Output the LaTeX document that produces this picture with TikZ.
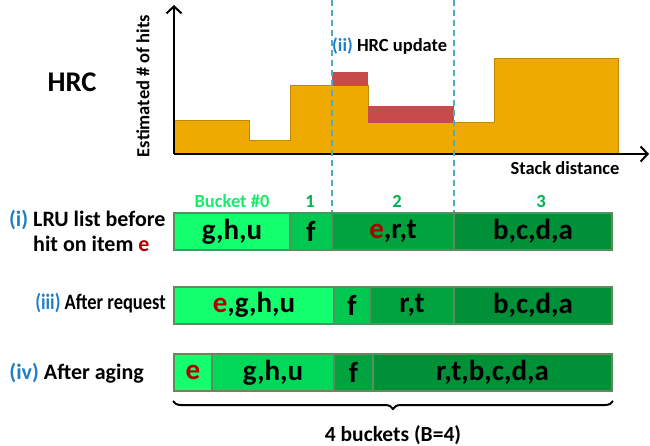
\documentclass[tikz,border=0pt]{standalone}
\usepackage{fontspec}
\usepackage{graphicx}
\setmainfont{Carlito}
\usetikzlibrary{decorations.pathreplacing,arrows.meta}

\definecolor{hrcfill}{HTML}{EEAA00}
\definecolor{hrcedge}{HTML}{C08A00}
\definecolor{updred}{HTML}{C84B4B}
\definecolor{dashblue}{HTML}{4BACC6}
\definecolor{labblue}{HTML}{1F7EC8}
\definecolor{itemred}{HTML}{B00000}
\definecolor{bktA}{HTML}{14FF6E}
\definecolor{bktE}{HTML}{00D85A}
\definecolor{bktB}{HTML}{00C850}
\definecolor{bktC}{HTML}{00A33D}
\definecolor{bktD}{HTML}{009038}
\definecolor{bktzero}{HTML}{14EC6A}
\definecolor{bktnum}{HTML}{00B050}
\definecolor{cellline}{HTML}{5E8C5E}

\newcommand{\itm}[1]{\textcolor{itemred}{#1}}
\newcommand{\stp}[1]{\textcolor{labblue}{#1}}

\tikzset{
  cell/.style={draw=cellline, line width=2pt, minimum height=37pt, inner sep=0pt,
    font=\fontsize{29}{32}\selectfont\bfseries},
  lbl/.style={font=\fontsize{18.5}{22}\selectfont\bfseries, inner sep=0pt},
  rowlbl/.style={font=\fontsize{22}{25}\selectfont\bfseries, inner sep=0pt},
  bnum/.style={lbl, text=bktnum},
  axis/.style={line width=2pt, -{Straight Barb[length=7pt, width=15pt, line width=2pt]}}
}

\begin{document}
\begin{tikzpicture}[x=1pt, y=-1pt]
  \useasboundingbox (0,0) rectangle (650,446);

  % histogram
  \fill[hrcfill, draw=hrcedge, line width=1pt]
    (174,154) -- (174,121) -- (249,121) -- (249,141) -- (290,141) -- (290,86)
    -- (368,86) -- (368,123) -- (494,123) -- (494,59) -- (618,59) -- (618,154) -- cycle;
  \fill[updred] (332,72) rectangle (368,86);
  \fill[updred] (368,106) rectangle (454,123);

  % axes
  \coordinate (o) at (174,154);
  \coordinate (ytop) at (174,5);
  \coordinate (xend) at (649,154);
  \draw[axis] (o) -- (ytop);
  \draw[axis] (o) -- (xend);

  \node[font=\fontsize{28.5}{32}\selectfont\bfseries] (hrc) at (72,82) {HRC};
  \node[lbl, rotate=90] (ylab) at (143,86) {Estimated \# of hits};
  \node[lbl] (xlab) at (565,168) {Stack distance};
  \node[lbl, anchor=west] (upd) at (332,46) {\stp{(ii)} HRC update};

  % bucket boundaries
  \foreach \x/\nm in {332/b, 454/c} {
    \coordinate (\nm top) at (\x,0);
    \coordinate (\nm bot) at (\x,212);
    \draw[dashblue, line width=2pt, dash pattern=on 6pt off 4pt] (\nm top) -- (\nm bot);
  }

  % bucket numbers
  \node[lbl, text=bktzero] (n0) at (232,201) {Bucket \#0};
  \node[bnum] (n1) at (310,201) {1};
  \node[bnum] (n2) at (397,201) {2};
  \node[bnum] (n3) at (541,201) {3};

  % (i) LRU list before hit
  \node[cell, fill=bktA, minimum width=116pt] (a0) at (232,231.5) {g,h,u};
  \node[cell, fill=bktB, minimum width=42pt] (a1) at (311,231.5) {f};
  \node[cell, fill=bktC, minimum width=122pt] (a2) at (393,231.5) {\itm{e},r,t};
  \node[cell, fill=bktD, minimum width=158pt] (a3) at (533,231.5) {b,c,d,a};
  \node[rowlbl, anchor=west, align=left] (la) at (33,231)
    {\llap{\stp{(i)} }LRU list before\\[0pt]hit on item \itm{e}};

  % (iii) after request
  \node[cell, fill=bktA, minimum width=160pt] (b0) at (254,305) {\itm{e},g,h,u};
  \node[cell, fill=bktB, minimum width=36pt] (b1) at (352,305) {f};
  \node[cell, fill=bktC, minimum width=84pt] (b2) at (412,305) {r,t};
  \node[cell, fill=bktD, minimum width=158pt] (b3) at (533,305) {b,c,d,a};
  \node[rowlbl, anchor=east] (lb) at (166,303)
    {\scalebox{0.84}[1]{\stp{(iii)} After request}};

  % (iv) after aging
  \node[cell, fill=bktA, minimum width=38pt] (c0) at (193,372.5) {\itm{e}};
  \node[cell, fill=bktE, minimum width=122pt] (c1) at (273,372.5) {g,h,u};
  \node[cell, fill=bktC, minimum width=39pt] (c2) at (353.5,372.5) {f};
  \node[cell, fill=bktD, minimum width=239pt] (c3) at (492.5,372.5) {r,t,b,c,d,a};
  \node[rowlbl, anchor=east] (lc) at (144,373) {\stp{(iv)} After aging};

  % brace
  \draw[line width=2pt, decorate, decoration={brace, mirror, amplitude=8pt}]
    ([yshift=-9pt]c0.south west) -- ([yshift=-9pt]c3.south east);
  \node[lbl, font=\fontsize{21.5}{24}\selectfont\bfseries] (nb) at (393,435) {4 buckets (B=4)};
\end{tikzpicture}
\end{document}
